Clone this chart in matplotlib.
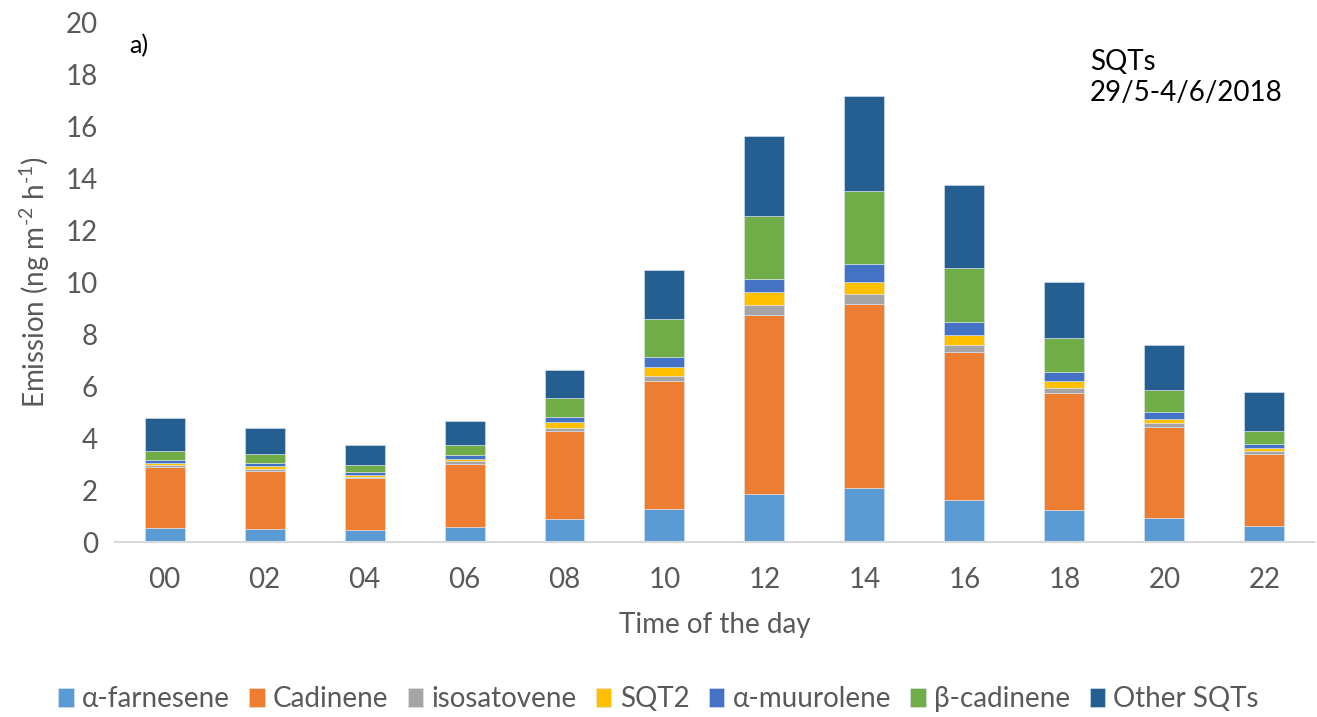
import numpy as np
import matplotlib
matplotlib.use("Agg")
import matplotlib.pyplot as plt

plt.rcParams['font.family'] = ['Lato', 'DejaVu Sans']
plt.rcParams['mathtext.fontset'] = 'custom'
plt.rcParams['mathtext.rm'] = 'Lato'
plt.rcParams['mathtext.it'] = 'Lato:italic'

# Data (ng m-2 h-1)
hours = ["00", "02", "04", "06", "08", "10", "12", "14", "16", "18", "20", "22"]
a_farnesene = [0.54, 0.49, 0.45, 0.57, 0.87, 1.28, 1.83, 2.09, 1.63, 1.24, 0.91, 0.62]
cadinene = [2.33, 2.25, 2.00, 2.44, 3.40, 4.91, 6.91, 7.08, 5.69, 4.49, 3.51, 2.78]
isosatovene = [0.09, 0.07, 0.04, 0.09, 0.13, 0.21, 0.38, 0.37, 0.26, 0.20, 0.15, 0.09]
sqt2 = [0.09, 0.11, 0.09, 0.08, 0.20, 0.33, 0.51, 0.46, 0.37, 0.26, 0.16, 0.11]
a_muurolene = [0.12, 0.12, 0.12, 0.17, 0.21, 0.39, 0.50, 0.69, 0.51, 0.34, 0.28, 0.17]
b_cadinene = [0.33, 0.34, 0.26, 0.37, 0.72, 1.46, 2.40, 2.80, 2.09, 1.34, 0.85, 0.50]
other_sqts = [1.27, 1.00, 0.76, 0.92, 1.09, 1.88, 3.10, 3.66, 3.19, 2.13, 1.74, 1.50]

series = [
    ("α-farnesene", a_farnesene, "#5B9BD5"),
    ("Cadinene", cadinene, "#ED7D31"),
    ("isosatovene", isosatovene, "#A5A5A5"),
    ("SQT2", sqt2, "#FFC000"),
    ("α-muurolene", a_muurolene, "#4472C4"),
    ("β-cadinene", b_cadinene, "#70AD47"),
    ("Other SQTs", other_sqts, "#255E91"),
]

fig = plt.figure(figsize=(13.17, 7.17), dpi=100)
ax = fig.add_axes([0.087, 0.244, 0.911, 0.725])

x = np.arange(len(hours))
bottom = np.zeros(len(hours))
for name, vals, col in series:
    ax.bar(x, vals, 0.4, bottom=bottom, color=col, label=name,
           edgecolor="#DDE6F0", linewidth=0.4)
    bottom += np.array(vals)

grey = "#595959"
ax.set_xlim(-0.5, len(hours) - 0.5)
ax.set_ylim(0, 20)
ax.set_yticks(np.arange(0, 21, 2))
ax.set_xticks(x)
ax.set_xticklabels(hours)
ax.tick_params(axis="both", length=0, labelsize=20, colors=grey)
ax.tick_params(axis="x", pad=18)
ax.tick_params(axis="y", pad=12)
for s in ["top", "right", "left"]:
    ax.spines[s].set_visible(False)
ax.spines["bottom"].set_color("#D9D9D9")
ax.spines["bottom"].set_linewidth(1.5)

ax.set_ylabel("Emission (ng m$^{\\text{-2}}$ h$^{\\text{-1}}$)", fontsize=20, color=grey, labelpad=10)
ax.set_xlabel("Time of the day", fontsize=20, color=grey, labelpad=14)

ax.text(0.012, 0.955, "a)", transform=ax.transAxes, fontsize=18, color="black", va="center")
ax.text(0.813, 0.893, "SQTs\n29/5-4/6/2018", transform=ax.transAxes, fontsize=20,
        color="black", va="center", linespacing=1.25)

fig.legend(loc="center", bbox_to_anchor=(0.5, 0.025), ncol=7, frameon=False,
           fontsize=20, labelcolor=grey, handlelength=0.55, handleheight=0.7,
           handletextpad=0.3, columnspacing=0.7)

fig.savefig("out.png", dpi=100)
